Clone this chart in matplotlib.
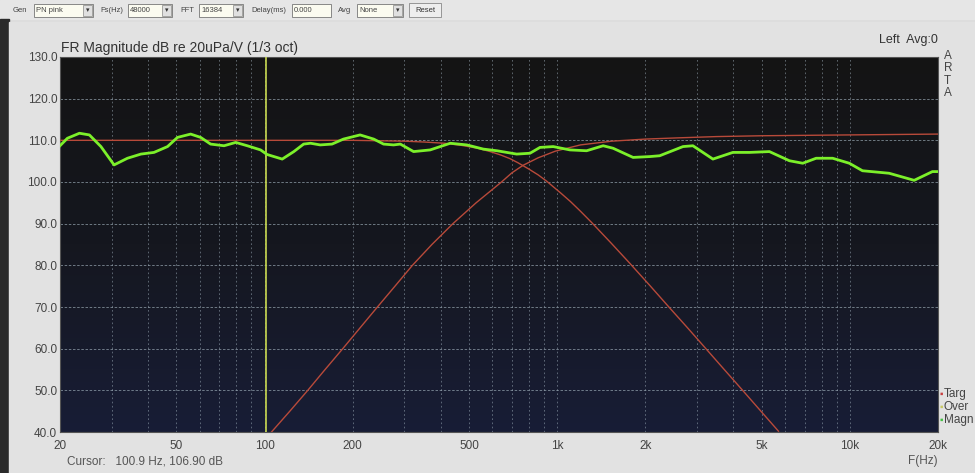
import numpy as np
import matplotlib
matplotlib.use("Agg")
import matplotlib.pyplot as plt
from matplotlib.colors import LinearSegmentedColormap
from matplotlib.patches import Rectangle
from matplotlib.ticker import FixedLocator, NullFormatter

plt.rcParams['font.family'] = ['Liberation Sans', 'DejaVu Sans']

# measured magnitude (1/3 oct smoothed)
magn_freq = [20, 21.2, 23.3, 25.2, 27.6, 30.6, 34.0, 37.8, 41.9, 46.6, 50.4, 55.9,
             60.5, 65.4, 72.7, 79.7, 87.3, 96.9, 102, 114.9, 125.9, 136, 143.5,
             155, 170, 186, 212, 236, 255, 276, 291, 323, 368, 431, 491, 559,
             622, 727, 807, 873, 969, 1105, 1260, 1435, 1552, 1816, 2070, 2239,
             2689, 2908, 3404, 3982, 4540, 5309, 6215, 6901, 7666, 8730, 9954,
             11040, 13615, 16580, 19140, 20000]
magn_db = [108.7, 110.5, 111.7, 111.3, 108.5, 104.1, 105.7, 106.7, 107.1, 108.5, 110.7, 111.5,
           110.7, 109.1, 108.7, 109.5, 108.7, 107.7, 106.6, 105.5, 107.3, 109.1, 109.3,
           108.9, 109.1, 110.3, 111.3, 110.3, 109.1, 108.9, 109.1, 107.3, 107.7, 109.3, 108.9, 107.9,
           107.5, 106.7, 106.9, 108.3, 108.5, 107.7, 107.5, 108.7, 108.1, 105.9, 106.1, 106.3,
           108.5, 108.7, 105.5, 107.1, 107.1, 107.3, 105.1, 104.5, 105.7, 105.7, 104.5,
           102.7, 102.1, 100.4, 102.5, 102.5]

# target curves (low-pass and high-pass)
lp_freq = [20, 200, 300, 350, 411, 470, 535, 590, 640, 690, 735, 800, 861, 920, 1030,
           1110, 1200, 1310, 1530, 1780, 2070, 2400, 2780, 3230, 3720, 4300, 4950, 5700]
lp_db = [110.0, 110.0, 109.8, 109.6, 109.3, 108.8, 108.1, 107.3, 106.5, 105.6, 104.6,
         103.1, 101.7, 100.2, 97.3, 95.3, 93.0, 90.3, 85.3, 80.3, 75.2, 70.1, 65.1,
         59.9, 55.0, 50.0, 45.1, 40.2]
hp_freq = [105.6, 122, 140.5, 161, 185, 212, 243, 279, 320, 373, 440, 528, 645, 700,
           764, 860, 985, 1200, 1535, 2000, 2600, 3500, 5000, 10000, 20000]
hp_db = [40, 45, 50, 55, 60, 65, 70, 75, 80, 85, 90, 95, 100, 102.2, 104.0, 105.8,
         107.4, 108.9, 109.8, 110.3, 110.6, 110.9, 111.1, 111.3, 111.5]

cursor_freq = 100.9
cursor_db = 106.90

xticks = [20, 50, 100, 200, 500, 1000, 2000, 5000, 10000, 20000]
xlabels = ['20', '50', '100', '200', '500', '1k', '2k', '5k', '10k', '20k']
yticks = np.arange(40, 131, 10)

W, H = 975, 473
fig = plt.figure(figsize=(9.75, 4.73), dpi=100, facecolor='#dcdcdc')

# overlay in pixel coords for window decorations
bg = fig.add_axes([0, 0, 1, 1], zorder=0)
bg.set_xlim(0, W)
bg.set_ylim(H, 0)
bg.axis('off')
bg.add_patch(Rectangle((0, 0), W, 19, color='#e6e6e6'))
bg.add_patch(Rectangle((0, 19), 9, H - 19, color='#2a2a2a'))
bg.add_patch(Rectangle((9, 22), W - 9, H - 22, color='#e2e2e2'))

tb_font = dict(fontsize=5.5, color='#444444', va='center')
bg.text(13, 10, 'Gen', **tb_font)
bg.text(100, 10, 'Fs(Hz)', **tb_font)
bg.text(180, 10, 'FFT', **tb_font)
bg.text(251, 10, 'Delay(ms)', **tb_font)
bg.text(338, 10, 'Avg', **tb_font)
boxes = [(34, 93, 'PN pink', True), (128, 172, '48000', True), (199, 243, '16384', True),
         (292, 331, '0.000', False), (357, 403, 'None', True)]
for x0, x1, s, arrow in boxes:
    bg.add_patch(Rectangle((x0, 4), x1 - x0, 13, facecolor='#fbfbf0', edgecolor='#777777', lw=0.6))
    bg.text(x0 + 2, 10.5, s, **tb_font)
    if arrow:
        bg.add_patch(Rectangle((x1 - 10, 5), 9, 11, facecolor='#e0e0e0', edgecolor='#888888', lw=0.5))
        bg.text(x1 - 5.5, 10.5, '\u25BE', fontsize=5, ha='center', va='center', color='#333333')
bg.add_patch(Rectangle((409, 3), 32, 14, facecolor='#eeeeee', edgecolor='#888888', lw=0.6))
bg.text(425, 10, 'Reset', fontsize=5.5, ha='center', va='center', color='#333333')

bg.text(61, 48, 'FR Magnitude dB re 20uPa/V (1/3 oct)', fontsize=10, color='#333333', va='center')
bg.text(938, 40, 'Left  Avg:0', fontsize=9, color='#333333', ha='right', va='center')
for i, ch in enumerate('ARTA'):
    bg.text(944, 56 + i * 12.3, ch, fontsize=8.5, color='#444444', va='center')
for i, (lab, col) in enumerate([('Targ', '#c84040'), ('Over', '#c8c860'), ('Magn', '#40c040')]):
    y = 394 + i * 13
    bg.text(939, y, '\u25AA', fontsize=7, color=col, va='center')
    bg.text(944, y, lab, fontsize=8.5, color='#444444', va='center')
bg.text(67, 461, 'Cursor:   %.1f Hz, %.2f dB' % (cursor_freq, cursor_db), fontsize=8.5,
        color='#555555', va='center')
bg.text(908, 461, 'F(Hz)', fontsize=8.5, color='#555555', va='center')

# main plot
ax = fig.add_axes([60 / W, 1 - 432 / H, 878 / W, 375 / H], zorder=1)
cmap = LinearSegmentedColormap.from_list('scr', ['#141414', '#15171f', '#181d36'])
ax.imshow(np.linspace(0, 1, 256).reshape(-1, 1), extent=(0, 1, 0, 1), transform=ax.transAxes,
          aspect='auto', cmap=cmap, zorder=0)

ax.set_xscale('log')
ax.set_xlim(20, 20000)
ax.set_ylim(40, 130)

minor = [m * 10 ** e for e in range(1, 5) for m in range(2, 10) if 20 <= m * 10 ** e <= 20000]
ax.xaxis.set_major_locator(FixedLocator(xticks))
ax.xaxis.set_minor_locator(FixedLocator(minor))
ax.xaxis.set_minor_formatter(NullFormatter())
ax.set_xticklabels(xlabels)
ax.set_yticks(yticks)
ax.set_yticklabels(['%.1f' % v for v in yticks])
ax.tick_params(axis='both', which='both', length=0, labelsize=8.5, labelcolor='#444444')
ax.tick_params(axis='x', pad=6)
ax.tick_params(axis='y', pad=2)
ax.grid(True, axis='x', which='both', color='#a0b0bc', lw=0.6, ls=(0, (2, 3)), alpha=0.6)
ax.grid(True, axis='y', which='major', color='#a0b0bc', lw=0.6, ls=(0, (3, 2)), alpha=0.75)
for s in ax.spines.values():
    s.set_color('#555555')
    s.set_linewidth(0.8)

ax.plot(lp_freq, lp_db, color='#b84a3a', lw=1.0, zorder=3)
ax.plot(hp_freq, hp_db, color='#b84a3a', lw=1.0, zorder=3)
ax.axvline(cursor_freq, color='#c8d850', lw=1.2, zorder=4)
ax.plot(magn_freq, magn_db, color='#7cf02a', lw=2.0, zorder=5, solid_joinstyle='round')

fig.savefig('out.png', dpi=100, facecolor=fig.get_facecolor())
